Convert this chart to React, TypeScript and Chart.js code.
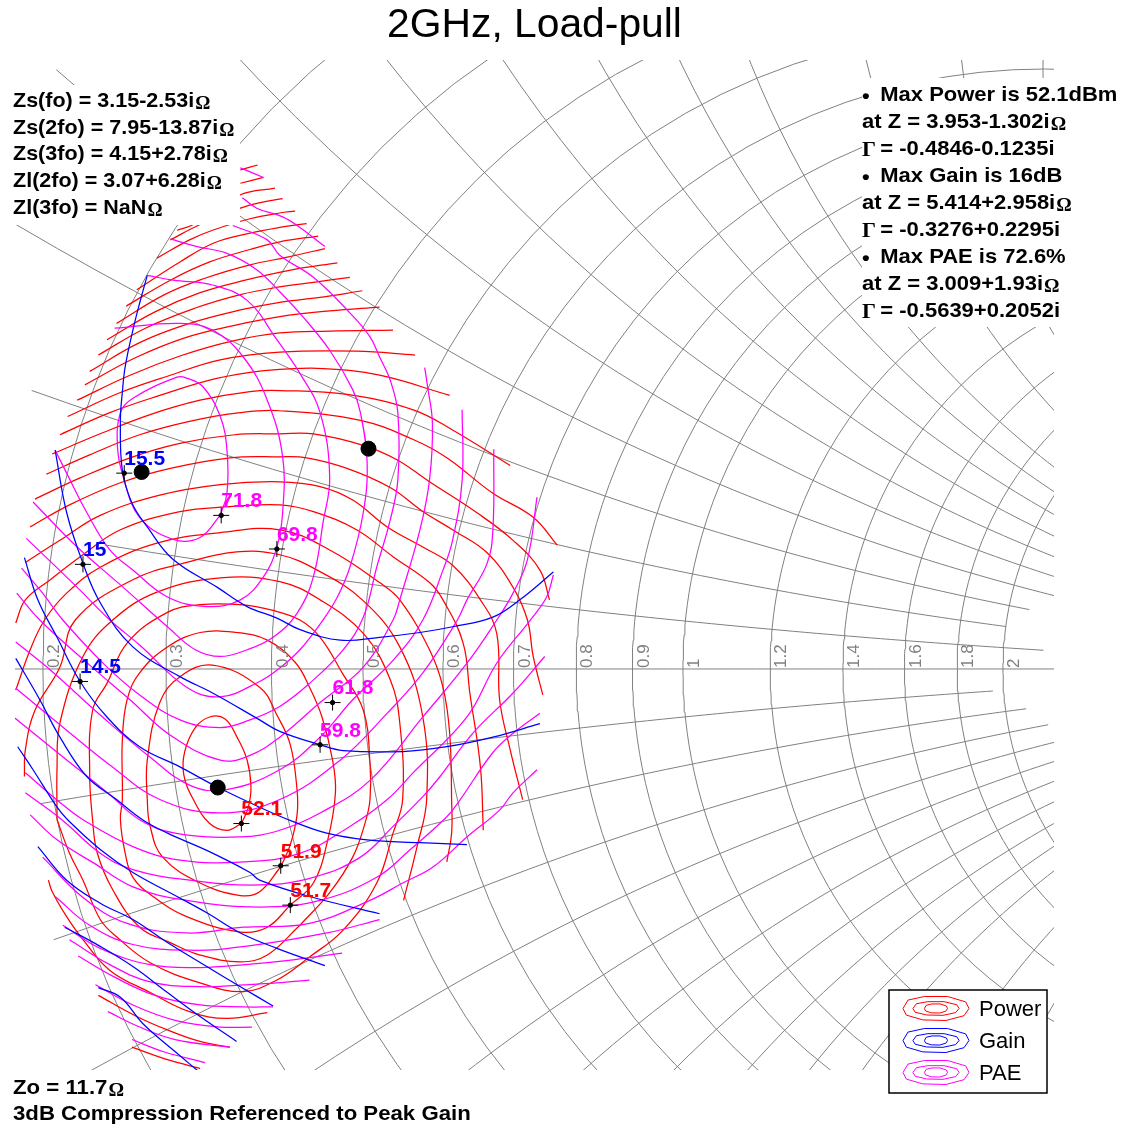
import React, { useEffect, useRef } from "react";
import { Chart, registerables } from "chart.js";

Chart.register(...registerables);

// All contour values: reflection coefficient Re, Im pairs, in thousandths of Gamma.
const powerContours: number[][] = [
  [-460,-161,-475,-168,-493,-161,-510,-136,-520,-110,-519,-86,-508,-61,-493,-50,-477,-52,-464,-72,-454,-95,-450,-123,-453,-145,-460,-161],
  [-419,-206,-441,-232,-461,-236,-503,-223,-542,-196,-555,-164,-558,-136,-558,-95,-545,-35,-524,-8,-490,4,-441,-19,-423,-48,-409,-79,-402,-126,-402,-152,-409,-183,-419,-206],
  [-409,-246,-433,-269,-461,-274,-517,-258,-552,-237,-573,-217,-581,-192,-586,-157,-584,-136,-584,-74,-579,-32,-566,-4,-537,23,-503,38,-465,38,-433,30,-404,7,-389,-19,-376,-50,-365,-95,-362,-129,-370,-178,-385,-223,-409,-246],
  [-399,-267,-433,-298,-461,-305,-503,-298,-534,-285,-566,-269,-594,-230,-610,-192,-615,-157,-618,-110,-615,-43,-600,-15,-579,27,-537,59,-503,67,-461,67,-427,61,-399,51,-378,33,-355,-4,-333,-43,-326,-98,-326,-136,-331,-160,-344,-196,-368,-233,-399,-267],
  [-652,-157,-652,-102,-649,-56,-625,13,-594,51,-548,80,-482,95,-420,91,-378,72,-333,37,-305,-11,-295,-56,-292,-136,-302,-171,-319,-223,-354,-272,-389,-300,-423,-324,-458,-336,-503,-327,-555,-306,-590,-279,-607,-261,-625,-220,-639,-192,-652,-157],
  [-686,-112,-685,-84,-675,-43,-649,2,-633,51,-573,93,-517,111,-465,122,-420,119,-381,103,-334,72,-295,23,-271,-50,-267,-136,-277,-185,-291,-241],
  [-695,-22,-680,20,-665,51,-642,79,-607,106,-548,131,-482,142,-420,145,-368,124,-316,90,-295,72,-264,20,-250,-19,-243,-67,-241,-136,-241,-171,-246,-201],
  [-695,48,-685,72,-659,93,-625,119,-586,145,-524,164,-472,169,-420,171,-385,164,-340,145,-302,117,-264,90,-250,72,-229,27,-222,-25,-211,-102,-208,-168],
  [-685,111,-649,134,-607,160,-545,181,-482,192,-420,195,-378,190,-344,176,-308,148,-271,127,-240,108,-211,72,-194,37,-191,-32,-180,-84,-167,-136],
  [-680,148,-639,171,-586,194,-534,209,-472,220,-420,221,-392,220,-350,209,-305,189,-271,164,-240,145,-204,121,-177,85,-162,51,-156,13,-146,-27],
  [-675,177,-628,199,-576,220,-524,235,-467,244,-420,245,-385,245,-333,233,-298,218,-264,195,-215,163,-177,134,-149,103,-139,72],
  [-663,203,-618,223,-566,244,-514,258,-461,267,-420,269,-336,259,-281,239,-246,220,-198,183,-156,158,-131,129],
  [-657,224,-607,245,-555,265,-503,280,-451,289,-420,290,-350,286,-281,270,-240,249,-180,212],
  [-649,244,-597,267,-545,285,-493,301,-451,309,-420,312,-375,313,-316,306,-243,285],
  [-641,263,-586,288,-534,306,-482,322,-420,330,-340,331,-279,327],
  [-631,280,-576,306,-524,326,-472,341,-420,350,-368,352,-302,353],
  [-623,296,-571,324,-519,345,-467,358,-420,367,-368,373,-316,377],
  [-618,310,-566,340,-514,360,-461,374,-420,382,-378,387,-334,394],
  [-609,327,-560,355,-508,376,-461,390,-420,398,-383,403,-347,408],
  [-600,343,-550,372,-503,392,-456,405,-406,416,-360,423],
  [-590,360,-540,390,-498,407,-451,421,-412,429,-373,438],
  [-580,378,-534,405,-493,424,-451,437,-420,445,-380,451],
  [-569,395,-524,424,-488,444,-451,454,-420,460,-392,464],
  [-548,428,-514,447,-490,457,-451,469,-420,475,-404,477],
  [-534,447,-503,463,-461,480,-439,486,-417,490],
  [-527,457,-510,463,-461,494,-425,501],
  [-461,506,-437,512],
  [-461,520,-443,525],
  [-661,-220,-657,-232,-642,-258,-625,-282,-597,-314,-555,-337,-514,-357,-475,-364,-433,-358],
  [-609,-340,-569,-362,-537,-376,-503,-388,-472,-394],
  [-574,-394,-537,-407,-503,-416],
];

const paeContours: number[][] = [
  [-482,160,-475,183,-475,228,-482,263,-500,294,-517,303,-527,304,-573,282,-586,267,-589,231,-583,200,-566,158,-531,135,-503,137,-482,160],
  [-592,355,-524,360,-490,353,-458,325,-433,280,-417,221,-417,163,-423,127,-437,96,-461,72,-496,65,-537,75,-573,103,-597,124,-621,163,-642,204,-654,228],
  [-558,410,-531,405,-490,400,-454,384,-423,343,-399,308,-378,267,-368,200,-375,152,-385,96,-402,58,-427,33,-454,20,-482,13,-508,20,-537,44,-583,85,-631,127,-677,174],
  [-534,448,-506,440,-475,433,-444,416,-420,393,-396,367,-368,332,-344,291,-336,267,-329,215,-333,163,-347,106,-360,75,-375,51,-399,20,-420,1,-441,-13,-482,-29,-517,-19,-566,25,-597,51,-631,85,-684,136],
  [-469,462,-433,447,-420,431,-385,408,-347,371,-326,346,-316,325,-305,301,-297,267,-297,197,-305,155,-319,106,-333,54,-354,20,-389,-15,-420,-39,-451,-53,-482,-61,-524,-53,-566,-27,-602,4,-646,51,-667,79,-689,105],
  [-269,314,-266,294,-261,256,-264,197,-274,145,-295,72,-302,51,-333,2,-378,-35,-420,-71,-451,-90,-482,-95,-534,-69,-576,-32,-618,4,-670,51,-694,79],
  [-230,270,-230,197,-240,134,-250,103,-271,51,-302,9,-344,-32,-378,-71,-420,-105,-477,-126,-514,-121,-555,-92,-607,-48,-659,-1,-695,28],
  [-197,229,-198,145,-204,110,-225,72,-235,51,-271,-4,-308,-46,-357,-95,-420,-136,-482,-150,-545,-136,-597,-100,-649,-58,-695,-20],
  [-152,179,-162,114,-177,79,-194,51,-225,6,-271,-50,-326,-116,-378,-150,-420,-168,-461,-175,-529,-171,-566,-157,-597,-131,-649,-89,-696,-51],
  [-135,98,-142,75,-159,51,-194,6,-225,-50,-281,-108,-308,-136,-347,-164,-399,-192,-458,-201,-524,-199,-573,-185,-625,-157,-649,-139,-685,-108],
  [-144,13,-177,-25,-219,-67,-253,-112,-271,-133,-302,-164,-336,-196,-385,-217,-441,-225,-514,-220,-573,-209,-607,-192,-647,-157,-685,-129],
  [-149,-46,-177,-67,-198,-87,-232,-136,-246,-154,-284,-188,-319,-217,-378,-241,-441,-248,-517,-241,-573,-227,-614,-202,-652,-178,-680,-152],
  [-152,-105,-177,-129,-191,-147,-225,-175,-260,-206,-292,-223,-326,-241,-389,-265,-458,-269,-517,-275,-579,-265,-625,-238,-667,-196],
  [-316,-261,-371,-275,-456,-289,-514,-293,-573,-287,-618,-267,-654,-237],
  [-355,-296,-406,-303,-456,-308,-503,-311,-555,-308,-607,-291,-646,-267],
  [-389,-324,-423,-327,-458,-329,-503,-331,-555,-326,-597,-308,-639,-282],
  [-427,-352,-458,-352,-503,-350,-550,-340,-592,-321,-630,-299],
  [-449,-373,-482,-373,-529,-366,-573,-350,-612,-329],
  [-472,-394,-529,-386,-566,-373,-599,-357],
  [-498,-410,-540,-399,-574,-386],
  [-461,522,-437,512],
  [-459,491,-444,480,-417,471,-399,460,-373,440],
];

const gainContours: number[][] = [
  [-558,410,-566,381,-573,353,-581,315,-584,288,-586,259,-584,207,-574,173,-558,148,-531,114,-485,85,-454,65,-423,53,-399,41,-357,30,-316,33,-274,38,-240,44,-198,54,-170,72,-135,101],
  [-654,228,-642,163,-625,110,-607,69,-573,23,-524,-8,-490,-25,-441,-53,-420,-65,-378,-79,-354,-85,-292,-86,-246,-81,-198,-71,-149,-57],
  [-686,116,-672,72,-652,33,-628,-13,-600,-50,-566,-81,-524,-102,-485,-123,-441,-144,-406,-159,-371,-171,-329,-178,-274,-181,-225,-183],
  [-695,11,-670,-32,-649,-71,-621,-112,-590,-136,-563,-157,-537,-171,-496,-189,-451,-212,-441,-220,-389,-237,-316,-255],
  [-693,-81,-677,-105,-652,-144,-641,-157,-607,-188,-573,-212,-527,-237,-496,-254,-461,-275,-423,-291,-373,-309],
  [-672,-185,-642,-220,-607,-244,-573,-261,-537,-285,-496,-310,-461,-331,-427,-351],
  [-644,-269,-607,-289,-573,-310,-537,-337,-503,-362,-465,-388],
  [-609,-332,-586,-342,-563,-369,-531,-397,-506,-418],
];

const resistanceGrid = [0.2, 0.3, 0.4, 0.5, 0.6, 0.7, 0.8, 0.9, 1, 1.2, 1.4, 1.6, 1.8, 2];
// reactance, first and last resistance at which each constant-reactance arc is drawn
const reactanceGrid = [
  [0, 0.1, 3],
  [0.1, 0.24, 2.2], [0.2, 0.157, 2.0], [0.3, 0.098, 2.1], [0.4, 0.059, 2.6], [0.5, 0.05, 2.6],
  [0.6, 0.05, 2.6], [0.7, 0.05, 2.6], [0.8, 0.05, 2.6], [0.9, 0.05, 2.6], [1, 0.05, 2.6],
  [1.2, 0.05, 2.6], [1.4, 0.05, 2.6], [1.6, 0.05, 2.6], [1.8, 0.05, 2.6], [2, 0.05, 2.6],
  [-0.1, 0.19, 1.95], [-0.2, 0.174, 2.1], [-0.3, 0.159, 2.2], [-0.4, 0.1, 2.6], [-0.5, 0.05, 2.6],
  [-0.6, 0.05, 2.6], [-0.7, 0.05, 2.6], [-0.8, 0.05, 2.6], [-0.9, 0.05, 2.6], [-1, 0.05, 2.6],
  [-1.2, 0.05, 2.6], [-1.4, 0.05, 2.6], [-1.6, 0.05, 2.6], [-1.8, 0.05, 2.6], [-2, 0.05, 2.6],
];

const maxPoints = [[-484.6, -123.5], [-327.6, 229.5], [-563.9, 205.2]];

const contourLabels = [
  { text: "15.5", color: "#0000ff", x: -582, y: 204 },
  { text: "15", color: "#0000ff", x: -625, y: 109 },
  { text: "14.5", color: "#0000ff", x: -628, y: -13 },
  { text: "71.8", color: "#ff00ff", x: -481, y: 160 },
  { text: "69.8", color: "#ff00ff", x: -423, y: 125 },
  { text: "61.8", color: "#ff00ff", x: -365, y: -35 },
  { text: "59.8", color: "#ff00ff", x: -378, y: -79 },
  { text: "52.1", color: "#ff0000", x: -460, y: -161 },
  { text: "51.9", color: "#ff0000", x: -419, y: -205 },
  { text: "51.7", color: "#ff0000", x: -409, y: -246 },
];

const sourceLines = ["Zs(fo) = 3.15-2.53i", "Zs(2fo) = 7.95-13.87i", "Zs(3fo) = 4.15+2.78i", "Zl(2fo) = 3.07+6.28i", "Zl(3fo) = NaN"];
const summaryLines = [
  "• Max Power is 52.1dBm", "at Z = 3.953-1.302i~", "Γ = -0.4846-0.1235i",
  "• Max Gain is 16dB", "at Z = 5.414+2.958i~", "Γ = -0.3276+0.2295i",
  "• Max PAE is 72.6%", "at Z = 3.009+1.93i~", "Γ = -0.5639+0.2052i",
];
const footerLines = ["Zo = 11.7~", "3dB Compression Referenced to Peak Gain"];
const legendEntries = [["Power", "#ff0000"], ["Gain", "#0000ff"], ["PAE", "#ff00ff"]];

const RED = "#ff0000", BLUE = "#0000ff", MAGENTA = "#ff00ff", GRAY = "#808080";
const SANS = "'Liberation Sans'";

const toXY = (flat: number[]) => {
  const out: { x: number; y: number }[] = [];
  for (let i = 0; i < flat.length; i += 2) out.push({ x: flat[i], y: flat[i + 1] });
  return out;
};

const gamma = (r: number, x: number) => {
  const den = (r + 1) * (r + 1) + x * x;
  return { x: (1000 * (r * r + x * x - 1)) / den, y: (1000 * 2 * x) / den };
};

const gridDatasets = () => {
  const sets: any[] = [];
  const base = { showLine: true, borderColor: GRAY, borderWidth: 1, pointRadius: 0, order: 40, tension: 0 };
  for (const r of resistanceGrid) {
    const data = [];
    for (let i = -60; i <= 60; i++) {
      const x = (i / 60) * (Math.abs(i / 60)) * 4;
      data.push(gamma(r, x));
    }
    sets.push({ ...base, data, label: `r${r}` });
  }
  for (const [xv, from, to] of reactanceGrid) {
    const data = [];
    for (let i = 0; i <= 60; i++) data.push(gamma(from + (i / 60) * (to - from), xv));
    sets.push({ ...base, data, label: `x${xv}` });
  }
  return sets;
};

const curveSets = (rows: number[][], color: string, order: number, label: string) =>
  rows.map((row, i) => ({
    label: `${label} ${i}`, data: toXY(row), showLine: true, borderColor: color,
    borderWidth: 1.25, pointRadius: 0, tension: 0.4, order,
  }));

const drawText = (ctx: CanvasRenderingContext2D, line: string, x: number, y: number, stretch: number) => {
  let cx = 0;
  let t = line;
  ctx.save();
  ctx.translate(x, y);
  ctx.scale(stretch, 1);
  ctx.fillStyle = "#000";
  ctx.textBaseline = "middle";
  ctx.textAlign = "left";
  if (t.startsWith("• ")) {
    ctx.font = `bold 20.5px ${SANS}`;
    ctx.fillText("•", cx, 2);
    cx += 17;
    t = t.slice(2);
  }
  if (t.startsWith("Γ")) {
    ctx.font = "bold 20.5px 'Liberation Serif'";
    ctx.fillText("Γ", cx, 2);
    cx += ctx.measureText("Γ").width + 4;
    t = t.slice(2);
  }
  const omega = t.endsWith("~");
  if (omega) t = t.slice(0, -1);
  ctx.font = `bold 20.5px ${SANS}`;
  ctx.fillText(t, cx, 0);
  if (omega) {
    cx += ctx.measureText(t).width + 1;
    ctx.font = "bold 18px 'Liberation Serif'";
    ctx.fillText("Ω", cx, 3);
  }
  ctx.restore();
};

const glyphScales = [[1, 1], [0.7, 0.57], [0.35, 0.38]];
const glyphShape = [[-1, 0], [-0.85, -0.7], [-0.35, -1], [0.35, -1], [0.9, -0.55], [1, 0], [0.85, 0.6], [0.3, 1], [-0.4, 0.95], [-0.9, 0.55]];

const overlayPlugin = {
  id: "overlay",
  afterDatasetsDraw(chart: any) {
    const { ctx, scales } = chart;
    const sx = scales.x, sy = scales.y;
    ctx.save();
    // white plates behind the notes
    ctx.fillStyle = "#fff";
    ctx.fillRect(12, 85, 228, 140);
    ctx.fillRect(862, 78, 269, 249);
    ctx.fillRect(0, 1070, 1131, 56);
    ctx.fillRect(889, 990, 158, 103);
    // resistance labels
    ctx.fillStyle = GRAY;
    ctx.font = `17px ${SANS}`;
    ctx.textAlign = "left";
    ctx.textBaseline = "bottom";
    for (const r of resistanceGrid) {
      const px = sx.getPixelForValue((1000 * (r - 1)) / (r + 1));
      ctx.save();
      ctx.translate(px + 20, sy.getPixelForValue(0) - 1);
      ctx.rotate(-Math.PI / 2);
      ctx.fillText(String(r), 0, 0);
      ctx.restore();
    }
    // contour labels
    ctx.font = `bold 21px ${SANS}`;
    ctx.textBaseline = "middle";
    for (const l of contourLabels) {
      ctx.fillStyle = l.color;
      ctx.fillText(l.text, sx.getPixelForValue(l.x), sy.getPixelForValue(l.y) - 14);
    }
    // notes
    sourceLines.forEach((l, i) => drawText(ctx, l + "~", 13, 101 + i * 26.9, 1.05));
    summaryLines.forEach((l, i) => drawText(ctx, l, 862, 95 + i * 27, 1.073));
    footerLines.forEach((l, i) => drawText(ctx, l, 13, 1088 + i * 26, 1.083));
    // legend
    ctx.strokeStyle = "#000";
    ctx.lineWidth = 1.5;
    ctx.strokeRect(889, 990, 158, 103);
    legendEntries.forEach(([name, color], i) => {
      const cy = 1008.5 + i * 32;
      ctx.strokeStyle = color;
      ctx.lineWidth = 1;
      for (const [wx, wy] of glyphScales) {
        ctx.beginPath();
        glyphShape.forEach(([gx, gy], k) => {
          const px = 936 + gx * 33 * wx, py = cy + gy * 12 * wy;
          if (k) ctx.lineTo(px, py); else ctx.moveTo(px, py);
        });
        ctx.closePath();
        ctx.stroke();
      }
      ctx.fillStyle = "#000";
      ctx.font = `22px ${SANS}`;
      ctx.textBaseline = "middle";
      ctx.textAlign = "left";
      ctx.fillText(name, 979, cy + 1);
    });
    ctx.restore();
  },
};

export default function App() {
  const ref = useRef<HTMLCanvasElement>(null);
  useEffect(() => {
    const chart = new Chart(ref.current!, {
      type: "scatter",
      plugins: [overlayPlugin],
      data: {
        datasets: [
          { label: "Max", data: maxPoints.map(([x, y]) => ({ x, y })), pointRadius: 7.5, pointBackgroundColor: "#000", pointBorderColor: "#000", order: 1 },
          { label: "Marker", data: contourLabels.map((l) => ({ x: l.x, y: l.y })), pointStyle: "cross", pointRadius: 8, pointBorderColor: "#000", pointBorderWidth: 1, order: 2 },
          { label: "MarkerDot", data: contourLabels.map((l) => ({ x: l.x, y: l.y })), pointRadius: 2.2, pointBackgroundColor: "#000", pointBorderColor: "#000", order: 2 },
          ...curveSets(gainContours, BLUE, 20, "Gain"),
          ...curveSets(paeContours, MAGENTA, 25, "PAE"),
          ...curveSets(powerContours, RED, 30, "Power"),
          ...gridDatasets(),
        ] as any,
      },
      options: {
        responsive: false,
        animation: false,
        layout: { padding: { left: 15, right: 77, top: 0, bottom: 26 } },
        scales: {
          x: { type: "linear", display: false, min: -695.8, max: 386.5 },
          y: { type: "linear", display: false, min: -449, max: 634.4 },
        },
        plugins: {
          legend: { display: false },
          tooltip: { enabled: false },
          title: {
            display: true,
            text: "2GHz, Load-pull",
            color: "#000",
            font: { family: "'Liberation Sans'", size: 40.8, weight: "normal", lineHeight: 1.1 },
            padding: { top: 3, bottom: 12.1 },
          },
        },
      },
    });
    return () => chart.destroy();
  }, []);
  return (
    <div style={{ position: "fixed", left: 0, top: 0, width: 1131, height: 1126, background: "#fff" }}>
      <canvas ref={ref} width={1131} height={1126} style={{ display: "block" }} />
    </div>
  );
}
